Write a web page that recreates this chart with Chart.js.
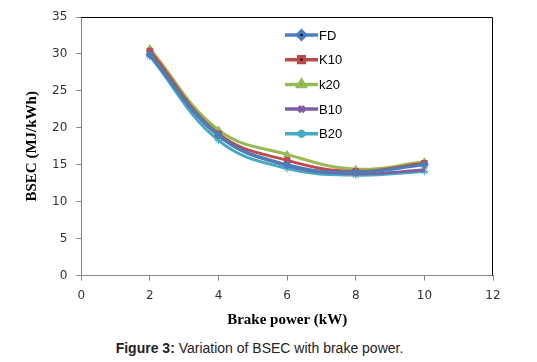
<!DOCTYPE html>
<html>
<head>
<meta charset="utf-8">
<script src="https://cdn.jsdelivr.net/npm/chart.js@4"></script>
<style>
  html, body { margin: 0; padding: 0; background: #fff; }
  #wrap { position: relative; width: 537px; height: 362px; }
  #box { position: absolute; left: 0; top: 0; width: 537px; height: 333px; }
  #caption { position: absolute; left: 0; width: 537px; top: 340px; text-align: center;
    font-family: "Liberation Sans", Arial, sans-serif; font-size: 14px; color: #222; margin-left: -9px; }
</style>
</head>
<body>
<div id="wrap">
  <div id="box"><canvas id="bsec-chart"></canvas></div>
  <div id="caption"><b>Figure 3:</b> Variation of BSEC with brake power.</div>
</div>
<script>
// brake power (kW)
const brakePower = [2, 4, 6, 8, 10];

// BSEC values (MJ/kWh)
const fdData  = [29.9, 19.0, 15.0, 14.0, 15.0];
const k10Data = [30.4, 19.2, 15.6, 14.1, 15.2];
const k20Data = [30.7, 19.7, 16.4, 14.4, 15.4];
const b10Data = [29.9, 18.9, 14.9, 13.8, 14.3];
const b20Data = [29.7, 18.3, 14.5, 13.6, 14.1];

const seriesNames = ['FD', 'K10', 'k20', 'B10', 'B20'];
const seriesColors = ['#4A7EBB', '#BE4B48', '#98B954', '#7D60A0', '#46AAC5'];
const seriesMarkers = ['rectRot', 'rect', 'triangle', 'crossRot', 'star'];
const allData = [fdData, k10Data, k20Data, b10Data, b20Data];

function toPoints(arr) {
    return arr.map((v, i) => ({ x: brakePower[i], y: v }));
}

const datasets = seriesNames.map((name, i) => ({
    label: name,
    data: toPoints(allData[i]),
    borderColor: seriesColors[i],
    backgroundColor: seriesColors[i],
    borderWidth: 3,
    pointStyle: seriesMarkers[i],
    pointRadius: 4,
    pointBorderWidth: 1,
    tension: 0.4,
    fill: false
}));

// legend drawn inside the plot, Excel style
const innerLegend = {
    id: 'innerLegend',
    afterDatasetsDraw(chart) {
        const c = chart.ctx;
        c.save();
        c.font = '13px "Liberation Sans", Arial, sans-serif';
        c.textBaseline = 'middle';
        datasets.forEach((ds, i) => {
            const y = 35 + i * 24.7;
            c.strokeStyle = ds.borderColor;
            c.lineWidth = 3.5;
            c.beginPath();
            c.moveTo(285, y);
            c.lineTo(318, y);
            c.stroke();
            Chart.helpers.drawPoint(c, {
                pointStyle: ds.pointStyle, radius: 4, borderWidth: 1, rotation: 0
            }, 301.5, y);
            c.fillStyle = '#000';
            c.fillText(ds.label, 319, y + 1);
        });
        c.restore();
    },
    beforeDatasetsDraw(chart) {
        // black frame on top and right of the plot area
        const a = chart.chartArea;
        const c = chart.ctx;
        c.save();
        c.strokeStyle = '#000';
        c.lineWidth = 1;
        c.beginPath();
        c.moveTo(a.left, a.top + 0.5);
        c.lineTo(a.right - 0.5, a.top + 0.5);
        c.lineTo(a.right - 0.5, a.bottom);
        c.stroke();
        c.restore();
    }
};

const ctx = document.getElementById('bsec-chart').getContext('2d');
const bsecChart = new Chart(ctx, {
    type: 'line',
    data: { datasets: datasets },
    options: {
        responsive: true,
        maintainAspectRatio: false,
        animation: false,
        layout: { padding: { top: 17, right: 44, left: 19, bottom: 0 } },
        plugins: {
            legend: { display: false },
            tooltip: { enabled: false }
        },
        scales: {
            x: {
                type: 'linear',
                min: 0, max: 12,
                ticks: { stepSize: 2, color: '#333', padding: 8,
                    font: { family: 'DejaVu Sans', size: 12 } },
                grid: { drawOnChartArea: false, tickLength: 5, color: '#868686' },
                border: { color: '#868686' },
                title: { display: true, text: 'Brake power (kW)', color: '#000',
                    font: { family: 'Liberation Serif', size: 15, weight: 'bold' }, padding: { top: 0 } }
            },
            y: {
                min: 0, max: 35,
                ticks: { stepSize: 5, color: '#333', padding: 9,
                    font: { family: 'DejaVu Sans', size: 12 } },
                grid: { drawOnChartArea: false, tickLength: 5, color: '#868686' },
                border: { color: '#868686' },
                title: { display: true, text: 'BSEC (MJ/kWh)', color: '#000',
                    font: { family: 'Liberation Serif', size: 15, weight: 'bold' }, padding: { bottom: 2 } }
            }
        }
    },
    plugins: [innerLegend]
});
</script>
</body>
</html>
